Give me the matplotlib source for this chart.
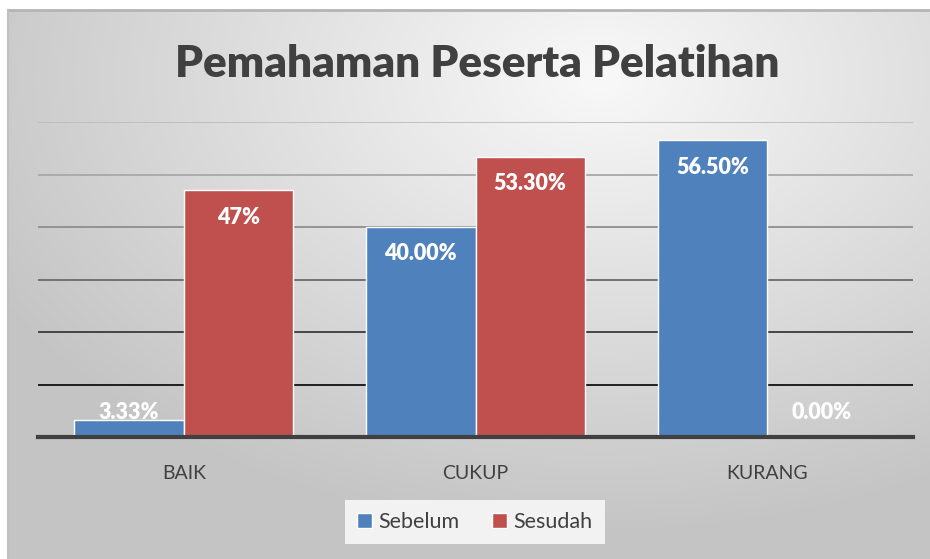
import numpy as np
import matplotlib
matplotlib.use("Agg")
import matplotlib.pyplot as plt
from matplotlib.patches import Patch

categories = ["BAIK", "CUKUP", "KURANG"]
series_names = ["Sebelum", "Sesudah"]
sebelum = [3.33, 40.00, 56.50]
sesudah = [47.0, 53.30, 0.00]
label_sebelum = ["3.33%", "40.00%", "56.50%"]
label_sesudah = ["47%", "53.30%", "0.00%"]
title = "Pemahaman Peserta Pelatihan"

FONT = "Lato"
plt.rcParams["font.family"] = [FONT, "DejaVu Sans"]

W, H = 930, 559
fig = plt.figure(figsize=(W / 100, H / 100), dpi=100)
fig.patch.set_facecolor("white")

# background gradient panel
bg = fig.add_axes([8 / W, 0, 1 - 8 / W, 1 - 10 / H], zorder=0)
ny, nx = 300, 500
yy, xx = np.mgrid[0:ny, 0:nx]
cx, cy = 0.64 * nx, 0.12 * ny
d = np.sqrt(((xx - cx) / nx) ** 2 + ((yy - cy) / ny * 0.9) ** 2)
d = np.clip(d / 0.75, 0, 1)
light = np.array([0.975, 0.975, 0.975])
dark = np.array([0.77, 0.77, 0.77])
img = light[None, None, :] * (1 - d[..., None]) + dark[None, None, :] * d[..., None]
bg.imshow(img, aspect="auto", extent=[0, 1, 0, 1], origin="upper")
bg.set_xlim(0, 1)
bg.set_ylim(0, 1)
bg.set_axis_off()
bg.plot([0, 1], [1, 1], color="#b4b4b4", lw=2, transform=bg.transAxes, clip_on=False)
bg.plot([0, 0], [0, 1], color="#c0c0c0", lw=1.5, transform=bg.transAxes, clip_on=False)

ax = fig.add_axes([38 / W, 1 - 437 / H, 875 / W, (437 - 122) / H], zorder=2)
ax.set_facecolor("none")
x = np.arange(len(categories))
bw = 0.375
b1 = ax.bar(x - bw / 2, sebelum, bw, color="#4F81BD", edgecolor="white", lw=1, zorder=3)
b2 = ax.bar(x + bw / 2, sesudah, bw, color="#C0504D", edgecolor="white", lw=1, zorder=3)

ax.set_xlim(-0.5, 2.5)
ax.set_ylim(0, 60)
ax.set_yticks(np.arange(0, 61, 10))
ax.yaxis.grid(True, zorder=1)
grid_cols = ["#404040", "#111111", "#3a3a3a", "#6a6a6a", "#8e8e8e", "#a8a8a8", "#bdbdbd"]
for gl, c in zip(ax.get_ygridlines(), grid_cols):
    gl.set_color(c)
    gl.set_linewidth(1.3)
ax.get_ygridlines()[0].set_visible(False)
ax.tick_params(axis="y", left=False, labelleft=False)
ax.set_xticks(x)
ax.set_xticklabels(categories, fontsize=14, color="#404040")
ax.tick_params(axis="x", length=0, pad=20)
for s in ["top", "left", "right"]:
    ax.spines[s].set_visible(False)
ax.spines["bottom"].set_color("#404040")
ax.spines["bottom"].set_linewidth(3)
ax.spines["bottom"].set_zorder(4)

# data labels inside end (clamped for short bars)
off = 5.1
minpos = 4.6
for bars, labels in ((b1, label_sebelum), (b2, label_sesudah)):
    for r, lab in zip(bars, labels):
        h = r.get_height()
        ax.text(r.get_x() + r.get_width() / 2, max(h - off, minpos), lab,
                ha="center", va="center", color="white", fontsize=15.5,
                fontweight="heavy", zorder=5)

fig.text(477 / W, 1 - 64 / H, title, ha="center", va="center",
         fontsize=31.7, fontweight="heavy", color="#404040", zorder=3)

handles = [Patch(facecolor="#4F81BD", edgecolor="white"),
           Patch(facecolor="#C0504D", edgecolor="white")]
leg = fig.legend(handles, series_names, loc="center", bbox_to_anchor=(475 / W, 1 - 522 / H),
                 ncol=2, frameon=True, fontsize=15.5, handlelength=0.7, handleheight=0.7,
                 handletextpad=0.3, columnspacing=1.5, borderpad=0.55, fancybox=False)
leg.get_frame().set_facecolor("#f2f2f2")
leg.get_frame().set_edgecolor("none")
leg.get_frame().set_alpha(1)
for t in leg.get_texts():
    t.set_color("#404040")

fig.savefig("out.png", dpi=100)
